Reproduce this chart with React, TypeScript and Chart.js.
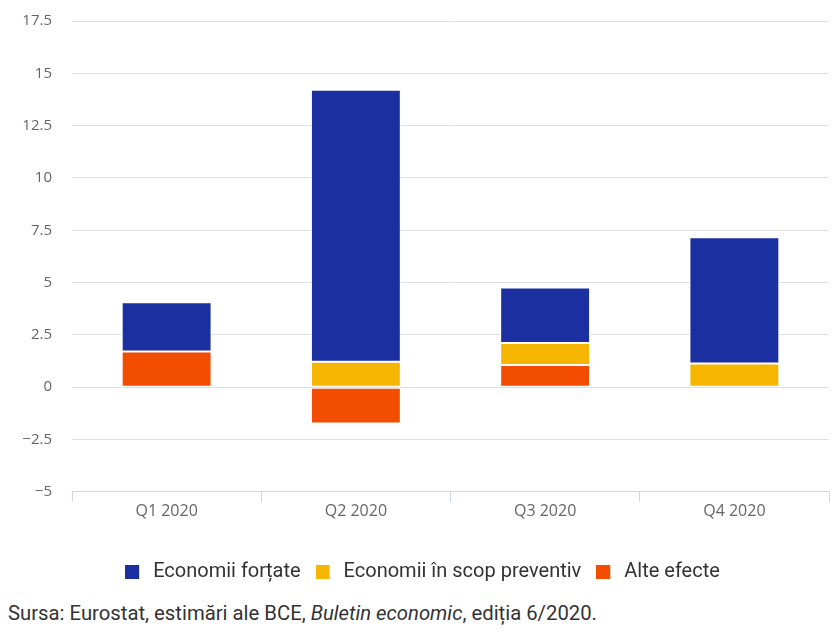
import React, { useEffect, useRef } from "react";
import Chart from "chart.js/auto";

const categories = ["Q1 2020", "Q2 2020", "Q3 2020", "Q4 2020"];
const seriesNames = ["Economii forțate", "Economii în scop preventiv", "Alte efecte"];
const seriesColors = ["#1b2fa0", "#f5b500", "#f24d00"];
const forcedSavings = [2.35, 13.0, 2.65, 6.03];
const precautionarySavings = [0, 1.21, 1.05, 1.13];
const otherEffects = [1.71, -1.73, 1.06, 0];
const yMin = -5;
const yMax = 17.5;
const yStep = 2.5;
const sourcePrefix = "Sursa: Eurostat, estimări ale BCE, ";
const sourceItalic = "Buletin economic";
const sourceSuffix = ", ediția 6/2020.";

function legendSwatch(color: string): HTMLCanvasElement {
  const c = document.createElement("canvas");
  c.width = 18;
  c.height = 14;
  const ctx = c.getContext("2d");
  if (ctx) {
    ctx.fillStyle = color;
    ctx.fillRect(0, 0, 14, 14);
  }
  return c;
}

const legendShift = {
  id: "legendShift",
  afterLayout(chart: any) {
    if (chart.legend) {
      chart.legend.left += 8;
      chart.legend.right += 8;
    }
  },
};

export default function App() {
  const ref = useRef<HTMLCanvasElement | null>(null);

  useEffect(() => {
    if (!ref.current) return;
    const swatches = seriesColors.map(legendSwatch);
    const values = [forcedSavings, precautionarySavings, otherEffects];
    // stacking order: bottom first (other effects), then precautionary, then forced
    const stackOrder = [2, 1, 0];
    const datasets = stackOrder.map((i) => ({
      label: seriesNames[i],
      data: values[i],
      backgroundColor: seriesColors[i],
      borderColor: "#ffffff",
      borderWidth: 1,
      borderSkipped: false as const,
      categoryPercentage: 1,
      barPercentage: 0.475,
    }));

    const chart = new Chart(ref.current, {
      type: "bar",
      data: { labels: categories, datasets },
      plugins: [legendShift],
      options: {
        animation: false,
        responsive: false,
        layout: { padding: { left: 0, right: 11, top: 21, bottom: 3 } },
        scales: {
          x: {
            stacked: true,
            afterFit: (scale: any) => {
              scale.height += 26;
            },
            grid: {
              display: true,
              drawOnChartArea: false,
              drawTicks: true,
              tickLength: 10,
              color: "#ccd6eb",
              offset: true,
            },
            border: { display: true, color: "#ccd6eb" },
            ticks: {
              font: { family: "'Open Sans'", size: 16 },
              color: "#666666",
              padding: 0,
            },
          },
          y: {
            stacked: true,
            min: yMin,
            max: yMax,
            afterFit: (scale: any) => {
              scale.width = 72;
              scale.paddingTop = 0;
              scale.paddingBottom = 0;
            },
            ticks: {
              stepSize: yStep,
              font: { family: "'Open Sans'", size: 15 },
              color: "#666666",
              padding: 20,
              callback: (v: any) => {
                const n = Number(v);
                return n < 0 ? "\u2212" + String(Math.abs(n)) : String(n);
              },
            },
            grid: {
              drawTicks: false,
              lineWidth: 1,
              color: (ctx: any) =>
                ctx.tick && ctx.tick.value === yMin ? "rgba(0,0,0,0)" : "#e0e0e0",
            },
            border: { display: false },
          },
        },
        plugins: {
          tooltip: { enabled: false },
          legend: {
            position: "bottom",
            labels: {
              usePointStyle: true,
              pointStyleWidth: 18,
              boxHeight: 14,
              padding: 15,
              color: "#333333",
              font: { family: "Roboto", size: 20 },
              generateLabels: (ch: any) =>
                [0, 1, 2].map((i) => {
                  const dsIndex = stackOrder.indexOf(i);
                  return {
                    text: seriesNames[i],
                    fillStyle: seriesColors[i],
                    strokeStyle: "rgba(0,0,0,0)",
                    lineWidth: 0,
                    pointStyle: swatches[i],
                    hidden: !ch.isDatasetVisible(dsIndex),
                    datasetIndex: dsIndex,
                    fontColor: "#333333",
                  };
                }),
            },
          },
        },
      },
    });
    return () => chart.destroy();
  }, []);

  return (
    <div style={{ position: "absolute", left: 0, top: 0, width: 840, height: 633, background: "#ffffff" }}>
      <canvas ref={ref} width={840} height={595} style={{ display: "block", width: 840, height: 595 }} />
      <div
        style={{
          position: "absolute",
          left: 8,
          top: 600,
          fontFamily: "Roboto",
          fontSize: 20.3,
          lineHeight: "26px",
          color: "#333333",
          whiteSpace: "nowrap",
        }}
      >
        {sourcePrefix}
        <i>{sourceItalic}</i>
        {sourceSuffix}
      </div>
    </div>
  );
}
